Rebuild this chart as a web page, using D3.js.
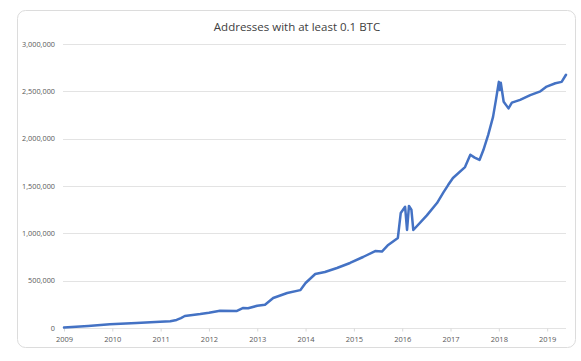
<!DOCTYPE html>
<html>
<head>
<meta charset="utf-8">
<script src="https://cdn.jsdelivr.net/npm/d3@7"></script>
<style>
  body { margin: 0; background: #fff; }
  text { font-family: "Open Sans", sans-serif; }
</style>
</head>
<body>
<div id="chart"></div>
<script>
var width = 581, height = 361;

// decimal year of each reading, and addresses holding at least 0.1 BTC
var years = [2009.0, 2009.5, 2009.95, 2010.5, 2010.99, 2011.2, 2011.33, 2011.42, 2011.5, 2011.82, 2012.0,
    2012.23, 2012.58, 2012.71, 2012.81, 2013.0, 2013.16, 2013.33, 2013.62, 2013.89, 2014.0, 2014.2,
    2014.4, 2014.65, 2014.92, 2015.19, 2015.44, 2015.58, 2015.71, 2015.91, 2015.97, 2016.06, 2016.1,
    2016.14, 2016.19, 2016.23, 2016.51, 2016.72, 2016.85, 2016.95, 2017.05, 2017.3, 2017.41, 2017.5,
    2017.6, 2017.68, 2017.78, 2017.88, 2017.94, 2018.0, 2018.02, 2018.04, 2018.1, 2018.2, 2018.27,
    2018.44, 2018.65, 2018.86, 2018.99, 2019.17, 2019.3, 2019.39];
var values = [5000, 22000, 39000, 52000, 67000, 72000, 85000, 105000, 127000, 148000, 162000,
    183000, 180000, 212000, 208000, 235000, 245000, 317000, 370000, 400000, 475000, 570000,
    592000, 634000, 687000, 750000, 813000, 808000, 877000, 951000, 1215000, 1280000, 1035000,
    1290000, 1250000, 1035000, 1190000, 1320000, 1430000, 1510000, 1585000, 1700000, 1830000, 1800000,
    1775000, 1880000, 2040000, 2230000, 2410000, 2600000, 2515000, 2590000, 2390000, 2320000, 2380000,
    2410000, 2460000, 2500000, 2550000, 2585000, 2600000, 2675000];
var yTicks = [0, 500000, 1000000, 1500000, 2000000, 2500000, 3000000];
var xTicks = [2009, 2010, 2011, 2012, 2013, 2014, 2015, 2016, 2017, 2018, 2019];

var data = years.map(function (d, i) { return { year: d, value: values[i] }; });

var svg = d3.select('#chart')
    .append('svg')
    .attr('width', width)
    .attr('height', height);

// card
svg.append('rect')
    .attr('x', 17.5).attr('y', 10.5)
    .attr('width', 558).attr('height', 337)
    .attr('rx', 8)
    .attr('fill', '#fff')
    .attr('stroke', '#dcdcdc');

var x = d3.scaleLinear().domain([2009, 2019.39]).range([64, 566]);
var y = d3.scaleLinear().domain([0, 3000000]).range([328, 44]);

// gridlines
svg.append('g')
    .selectAll('line')
    .data(yTicks).enter()
    .append('line')
    .attr('x1', 63).attr('x2', 566)
    .attr('y1', function (d) { return Math.round(y(d)) + 0.5; })
    .attr('y2', function (d) { return Math.round(y(d)) + 0.5; })
    .attr('stroke', '#e3e3e3')
    .attr('stroke-width', 1);

// y labels
svg.append('g')
    .selectAll('text')
    .data(yTicks).enter()
    .append('text')
    .attr('x', 55)
    .attr('y', function (d) { return y(d); })
    .attr('dy', '0.35em')
    .attr('text-anchor', 'end')
    .attr('font-size', 7.3)
    .attr('fill', '#595959')
    .text(d3.format(','));

// x axis ticks + labels
var xAxis = d3.axisBottom(x)
    .tickValues(xTicks)
    .tickSize(3)
    .tickPadding(5)
    .tickFormat(d3.format('d'));

var gx = svg.append('g')
    .attr('transform', 'translate(0,' + (Math.round(y(0)) + 0.5) + ')')
    .call(xAxis);
gx.select('.domain').remove();
gx.selectAll('line').attr('stroke', '#d9d9d9');
gx.selectAll('text')
    .attr('font-size', 7.5)
    .attr('fill', '#595959')
    .style('font-family', '"Open Sans", sans-serif');

// line
var line = d3.line()
    .x(function (d) { return x(d.year); })
    .y(function (d) { return y(d.value); });

svg.append('path')
    .datum(data)
    .attr('d', line)
    .attr('fill', 'none')
    .attr('stroke', '#4472c4')
    .attr('stroke-width', 2.5)
    .attr('stroke-linejoin', 'round')
    .attr('stroke-linecap', 'round');

// title
svg.append('text')
    .attr('x', 297)
    .attr('y', 31)
    .attr('text-anchor', 'middle')
    .attr('font-size', 11.5)
    .attr('fill', '#404040')
    .text('Addresses with at least 0.1 BTC');
</script>
</body>
</html>
